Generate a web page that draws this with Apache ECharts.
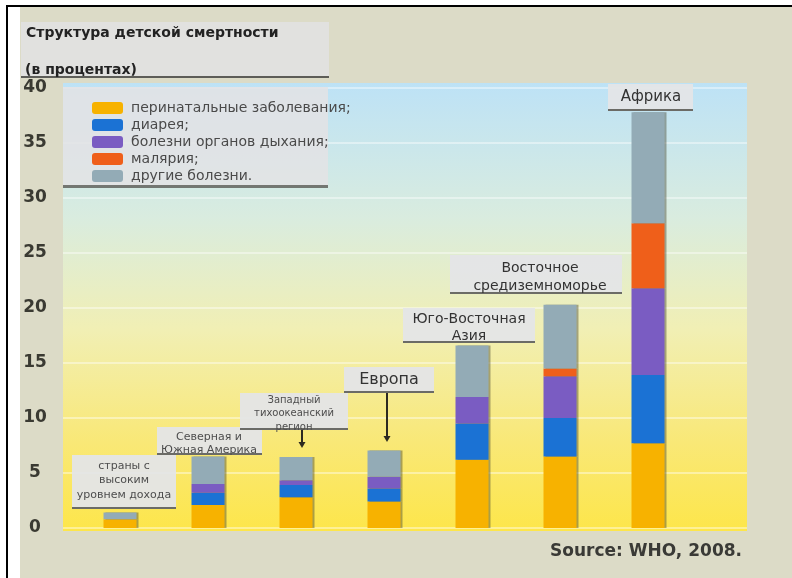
<!DOCTYPE html>
<html>
<head>
<meta charset="utf-8">
<script src="https://cdn.jsdelivr.net/npm/echarts@6/dist/echarts.min.js"></script>
<style>
  html, body { margin: 0; padding: 0; background: #ffffff; }
  #chart { width: 792px; height: 578px; }
</style>
</head>
<body>
<div id="chart"></div>
<script>
// Regions (category order along the x axis)
var categories = [
  'страны с\nвысоким\nуровнем дохода',
  'Северная и\nЮжная Америка',
  'Западный\nтихоокеанский\nрегион',
  'Европа',
  'Юго-Восточная\nАзия',
  'Восточное\nсредиземноморье',
  'Африка'
];

// Share of child deaths by cause, percent (stacked bottom to top)
var perinatal   = [0.8, 2.1, 2.8, 2.4, 6.2, 6.5, 7.7];
var diarrhea    = [0.0, 1.1, 1.1, 1.2, 3.3, 3.5, 6.2];
var respiratory = [0.0, 0.8, 0.45, 1.05, 2.4, 3.8, 7.9];
var malaria     = [0.0, 0.0, 0.0, 0.0, 0.0, 0.7, 5.9];
var otherDis    = [0.6, 2.5, 2.1, 2.4, 4.7, 5.8, 10.1];

var seriesNames = [
  'перинатальные заболевания;',
  'диарея;',
  'болезни органов дыхания;',
  'малярия;',
  'другие болезни.'
];
var seriesColors = ['#f7b200', '#1b72d4', '#7a5cc2', '#ef5f1a', '#93abb6'];
var seriesData = [perinatal, diarrhea, respiratory, malaria, otherDis];

// Value axis ticks
var yTicks = [0, 5, 10, 15, 20, 25, 30, 35, 40];

var chart = echarts.init(document.getElementById('chart'), null, { renderer: 'canvas' });

var series = seriesNames.map(function (name, i) {
  return {
    name: name,
    type: 'bar',
    stack: 'total',
    xAxisIndex: 1,
    yAxisIndex: 1,
    barWidth: 33,
    data: seriesData[i],
    itemStyle: {
      color: seriesColors[i],
      shadowColor: 'rgba(70,70,50,0.45)',
      shadowOffsetX: 2,
      shadowBlur: 0
    },
    emphasis: { disabled: true }
  };
});

// Annotation boxes for region names
function labelBox(x, y, w, h, text, tx, ty, size, lh, color) {
  return {
    type: 'group',
    children: [
      { type: 'rect', shape: { x: x, y: y, width: w, height: h },
        style: { fill: 'rgba(228,229,231,0.95)' }, z: 5 },
      { type: 'rect', shape: { x: x, y: y + h - 2, width: w, height: 2 },
        style: { fill: '#6b6b66' }, z: 6 },
      { type: 'text', x: tx, y: ty, z: 7,
        style: { text: text, fontFamily: 'DejaVu Sans', fontSize: size, lineHeight: lh,
                 fill: color, align: 'center', verticalAlign: 'middle' } }
    ]
  };
}

function arrow(x, y1, y2) {
  return {
    type: 'group',
    children: [
      { type: 'line', shape: { x1: x, y1: y1, x2: x, y2: y2 - 5 },
        style: { stroke: '#2d2a20', lineWidth: 2 }, z: 8 },
      { type: 'polygon', shape: { points: [[x - 3.5, y2 - 6], [x + 3.5, y2 - 6], [x, y2]] },
        style: { fill: '#2d2a20' }, z: 8 }
    ]
  };
}

var option = {
  backgroundColor: '#ffffff',
  animation: false,
  legend: {
    orient: 'vertical',
    left: 87,
    top: 96,
    itemWidth: 31,
    itemHeight: 12,
    itemGap: 3,
    icon: 'roundRect',
    selectedMode: false,
    data: seriesNames,
    textStyle: { fontFamily: 'DejaVu Sans', fontSize: 14, color: '#4a4a4a', lineHeight: 14, padding: [0, 0, 0, 3] }
  },
  grid: [
    { left: 63, right: 45, top: 88, bottom: 50 },
    { left: 76, right: 100, top: 88, bottom: 50 }
  ],
  xAxis: [
    { type: 'category', gridIndex: 0, data: categories, show: false },
    { type: 'category', gridIndex: 1, data: categories, show: false }
  ],
  yAxis: [
    {
      type: 'value', gridIndex: 0, min: yTicks[0], max: yTicks[yTicks.length - 1], interval: 5,
      axisLine: { show: false }, axisTick: { show: false },
      axisLabel: { margin: 28, align: 'center', fontFamily: 'DejaVu Sans', fontWeight: 'bold',
                   fontSize: 17, color: '#3a3a32' },
      splitLine: { lineStyle: { color: 'rgba(255,255,255,0.55)', width: 1.5 } }
    },
    {
      type: 'value', gridIndex: 1, min: 0, max: 40, interval: 5, show: false,
      splitLine: { show: false }
    }
  ],
  series: series,
  graphic: [
    // page frame and panel
    { type: 'rect', z: -20, shape: { x: 20, y: 7, width: 772, height: 571 }, style: { fill: '#dcdbc7' } },
    { type: 'rect', z: -19, shape: { x: 6, y: 5, width: 2, height: 573 }, style: { fill: '#000' } },
    { type: 'rect', z: -19, shape: { x: 6, y: 5, width: 786, height: 2 }, style: { fill: '#000' } },
    // plot background gradient
    { type: 'rect', z: -10, shape: { x: 63, y: 83, width: 684, height: 448 },
      style: { fill: new echarts.graphic.LinearGradient(0, 0, 0, 1, [
        { offset: 0, color: '#bde2f6' },
        { offset: 0.3, color: '#d9ecdf' },
        { offset: 0.55, color: '#f1efb4' },
        { offset: 0.8, color: '#f9e877' },
        { offset: 1, color: '#fde64a' }
      ]) } },
    // title block
    { type: 'rect', z: 5, shape: { x: 21, y: 22, width: 308, height: 55 }, style: { fill: '#e1e1df' } },
    { type: 'rect', z: 6, shape: { x: 21, y: 76, width: 308, height: 2 }, style: { fill: '#5d5d58' } },
    { type: 'text', z: 7, x: 26, y: 33,
      style: { text: 'Структура детской смертности', fontFamily: 'DejaVu Sans', fontWeight: 'bold',
               fontSize: 14, fill: '#222', verticalAlign: 'middle' } },
    { type: 'text', z: 7, x: 25, y: 70,
      style: { text: '(в процентах)', fontFamily: 'DejaVu Sans', fontWeight: 'bold',
               fontSize: 14, fill: '#222', verticalAlign: 'middle' } },
    // legend panel
    { type: 'rect', z: 1, shape: { x: 63, y: 87, width: 265, height: 99 }, style: { fill: 'rgba(226,227,229,0.88)' } },
    { type: 'rect', z: 2, shape: { x: 63, y: 185, width: 265, height: 3 }, style: { fill: 'rgba(90,90,85,0.8)' } },
    // region labels
    labelBox(72, 455, 104, 54, categories[0], 124, 480.5, 11, 14.5, '#4d4d4d'),
    labelBox(157, 427, 105, 28, categories[1], 209, 443.5, 11, 13, '#4d4d4d'),
    labelBox(240, 393, 108, 37, categories[2], 294, 413.5, 10, 13.5, '#4d4d4d'),
    labelBox(344, 367, 90, 26, categories[3], 389, 380, 16, 18, '#333'),
    labelBox(403, 308, 132, 35, categories[4], 469, 327.5, 14, 17, '#333'),
    labelBox(450, 255, 172, 39, categories[5], 540, 277, 14, 18, '#333'),
    labelBox(608, 84, 85, 27, categories[6], 651, 97, 15, 18, '#333'),
    arrow(302, 430, 448),
    arrow(387, 393, 442),
    // source note
    { type: 'text', z: 7, x: 742, y: 552,
      style: { text: 'Source: WHO, 2008.', fontFamily: 'DejaVu Sans', fontWeight: 'bold',
               fontSize: 17, fill: '#3a3a36', align: 'right', verticalAlign: 'middle' } }
  ]
};

chart.setOption(option);
</script>
</body>
</html>
